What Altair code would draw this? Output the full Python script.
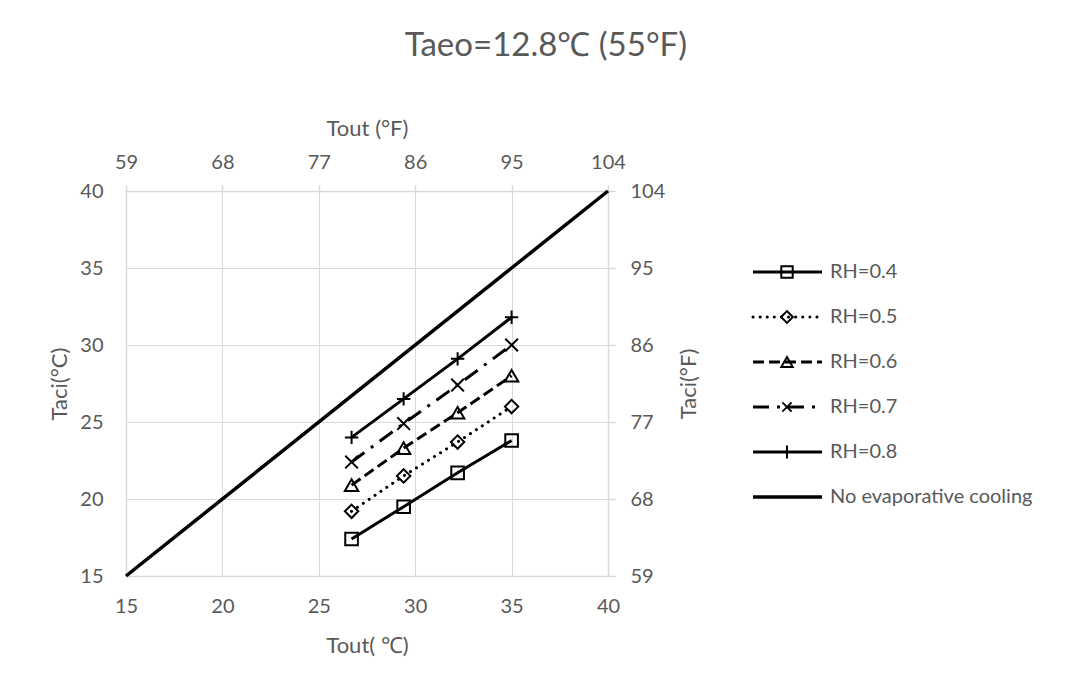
import altair as alt
import pandas as pd

# Outdoor temperature (°C) at which the evaporative cooling cases were evaluated
tout_c = [26.7, 29.4, 32.2, 35.0]

# Air temperature entering the cooling coil (°C) for each relative humidity
taci_rh04 = [17.4, 19.5, 21.7, 23.8]
taci_rh05 = [19.2, 21.5, 23.7, 26.0]
taci_rh06 = [20.9, 23.3, 25.6, 28.0]
taci_rh07 = [22.4, 24.9, 27.4, 30.0]
taci_rh08 = [24.0, 26.5, 29.1, 31.8]

# Reference line without evaporative cooling (Taci = Tout)
no_cooling_c = [15, 40]

series_names = ["RH=0.4", "RH=0.5", "RH=0.6", "RH=0.7", "RH=0.8",
                "No evaporative cooling"]
series_values = [taci_rh04, taci_rh05, taci_rh06, taci_rh07, taci_rh08]

celsius_ticks = [15, 20, 25, 30, 35, 40]
fahrenheit_ticks = [59, 68, 77, 86, 95, 104]

GREY = "#595959"
GRID = "#d9d9d9"
FONT = "Lato"

X_PATH = "M-1,-1L1,1M-1,1L1,-1"
PLUS_PATH = "M-1,0L1,0M0,-1L0,1"

# line dash, cap, marker shape and marker size per series
styles = [
    dict(dash=None, cap="butt", shape="square", size=160, lsize=130),
    dict(dash=[0.1, 7], cap="round", shape="diamond", size=180, lsize=140),
    dict(dash=[11, 5], cap="butt", shape="triangle-up", size=180, lsize=130),
    dict(dash=[16, 8, 3, 8], cap="butt", shape=X_PATH, size=160, lsize=85),
    dict(dash=None, cap="butt", shape=PLUS_PATH, size=180, lsize=170),
]

x_c = alt.X(
    "tout:Q",
    scale=alt.Scale(domain=[15, 40], nice=False, zero=False),
    axis=alt.Axis(values=celsius_ticks, title="Tout( ℃)", grid=True,
                  gridColor=GRID, domainColor=GRID, domainWidth=1.5,
                  ticks=False, labelPadding=20, titlePadding=19, labelFlush=False),
)
y_c = alt.Y(
    "taci:Q",
    scale=alt.Scale(domain=[15, 40], nice=False, zero=False),
    axis=alt.Axis(values=celsius_ticks, title="Taci(°C)", grid=True,
                  gridColor=GRID, domainColor=GRID, domainWidth=1.5,
                  ticks=False, labelPadding=23, titlePadding=8, labelFlush=False),
)

plot_layers = []
legend_layers = []

# reference line
ref_df = pd.DataFrame({"tout": no_cooling_c, "taci": no_cooling_c})
plot_layers.append(
    alt.Chart(ref_df).mark_line(color="black", strokeWidth=3.5).encode(x=x_c, y=y_c)
)

for name, vals, st in zip(series_names[:5], series_values, styles):
    df = pd.DataFrame({"tout": tout_c, "taci": vals})
    line_kw = dict(color="black", strokeWidth=3, strokeCap=st["cap"])
    if st["dash"] is not None:
        line_kw["strokeDash"] = st["dash"]
    plot_layers.append(alt.Chart(df).mark_line(**line_kw).encode(x=x_c, y=y_c))
    plot_layers.append(
        alt.Chart(df).mark_point(shape=st["shape"], filled=False, color="black",
                                 strokeWidth=2, size=st["size"], opacity=1)
        .encode(x=x_c, y=y_c)
    )

celsius_layer = alt.layer(*plot_layers)

# Fahrenheit axes on the top and right share the same extent as the °C axes
f_df = pd.DataFrame({"tf": [fahrenheit_ticks[0], fahrenheit_ticks[-1]],
                     "taf": [fahrenheit_ticks[0], fahrenheit_ticks[-1]]})
fahrenheit_layer = alt.Chart(f_df).mark_point(opacity=0).encode(
    x=alt.X("tf:Q", scale=alt.Scale(domain=[59, 104], nice=False, zero=False),
            axis=alt.Axis(orient="top", values=fahrenheit_ticks, title="Tout (°F)",
                          grid=False, domainColor=GRID, domainWidth=1.5,
                          tickColor=GRID, tickSize=6, tickWidth=1.5,
                          labelPadding=13, titlePadding=12, labelFlush=False)),
    y=alt.Y("taf:Q", scale=alt.Scale(domain=[59, 104], nice=False, zero=False),
            axis=alt.Axis(orient="right", values=fahrenheit_ticks, title="Taci(°F)",
                          grid=False, domainColor=GRID, domainWidth=1.5,
                          tickColor=GRID, tickSize=7, tickWidth=1.5,
                          labelPadding=15, titlePadding=36, titleAngle=270,
                          labelFlush=False)),
)

main = alt.layer(celsius_layer, fahrenheit_layer).resolve_scale(
    x="independent", y="independent"
).properties(width=482, height=385)

# legend panel
lx = alt.X("lx:Q", scale=alt.Scale(domain=[0, 290], nice=False, zero=False), axis=None)
ly = alt.Y("row:Q", scale=alt.Scale(domain=[-1.8, 6.756], reverse=True, nice=False,
                                     zero=False), axis=None)

for i, name in enumerate(series_names):
    seg = pd.DataFrame({"lx": [0, 69], "row": [i, i]})
    if i < 5:
        st = styles[i]
        line_kw = dict(color="black", strokeWidth=3, strokeCap=st["cap"])
        if st["dash"] is not None:
            line_kw["strokeDash"] = st["dash"]
        legend_layers.append(alt.Chart(seg).mark_line(**line_kw).encode(x=lx, y=ly))
        mk = pd.DataFrame({"lx": [34], "row": [i]})
        legend_layers.append(
            alt.Chart(mk).mark_point(shape=st["shape"], filled=False, color="black",
                                     strokeWidth=2, size=st["lsize"], opacity=1)
            .encode(x=lx, y=ly)
        )
    else:
        legend_layers.append(
            alt.Chart(seg).mark_line(color="black", strokeWidth=3.5).encode(x=lx, y=ly)
        )
    lab = pd.DataFrame({"lx": [77], "row": [i], "label": [name]})
    legend_layers.append(
        alt.Chart(lab).mark_text(align="left", baseline="middle", fontSize=20,
                                 color=GREY, font=FONT)
        .encode(x=lx, y=ly, text="label:N")
    )

legend = alt.layer(*legend_layers).properties(width=290, height=385)

chart = alt.hconcat(main, legend, spacing=145, bounds="flush").properties(
    title=alt.Title("Taeo=12.8℃ (55°F)", fontSize=33, font=FONT, color=GREY,
                    fontWeight="normal", anchor="middle", offset=54),
    padding={"left": 48, "top": 30, "right": 5, "bottom": 5},
    background="white",
).configure_view(stroke=None).configure_axis(
    labelFont=FONT, titleFont=FONT, labelFontSize=20, titleFontSize=22,
    labelColor=GREY, titleColor=GREY, titleFontWeight="normal",
)

chart.save("out.html", embed_options={"renderer": "svg", "actions": False})
